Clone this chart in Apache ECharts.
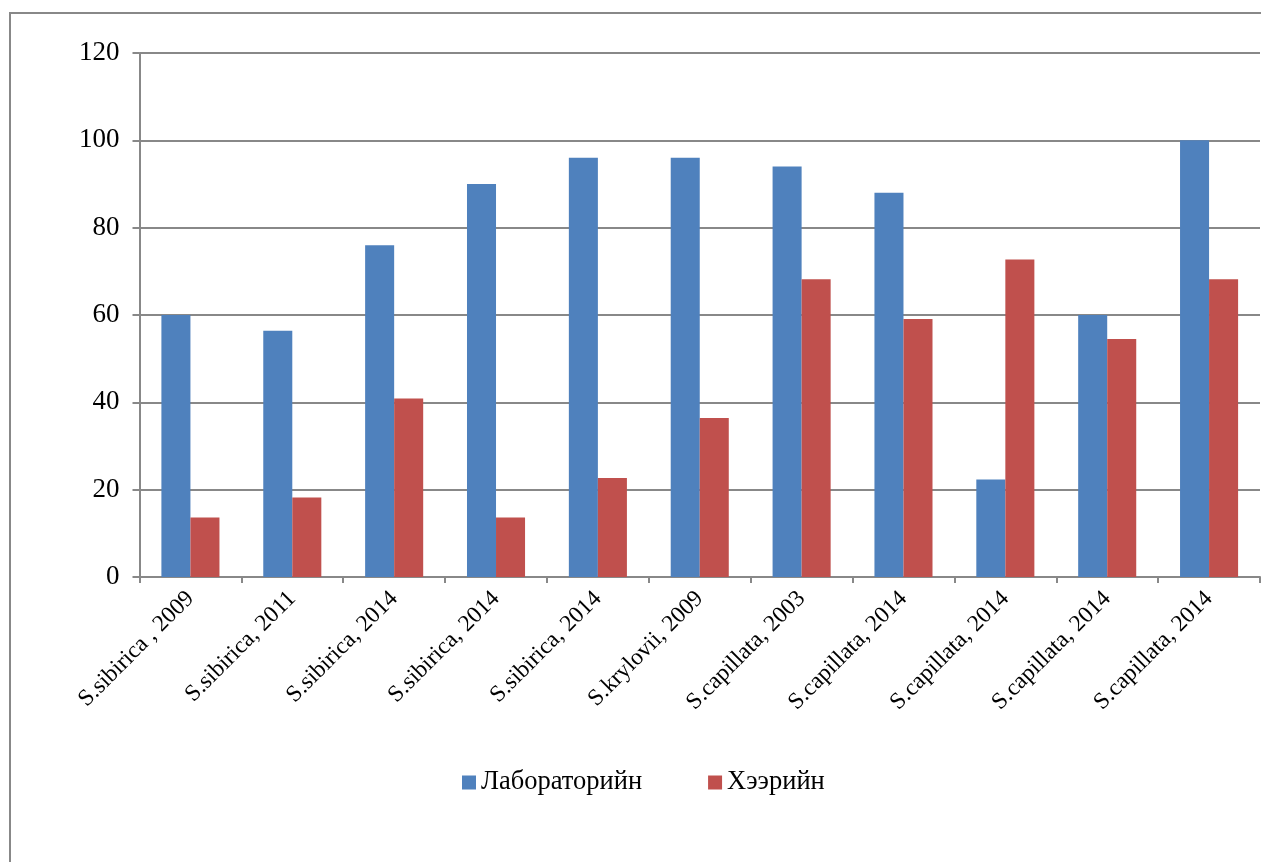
<!DOCTYPE html>
<html><head><meta charset="utf-8">
<script src="https://cdn.jsdelivr.net/npm/echarts@6/dist/echarts.min.js"></script>
<style>html,body{margin:0;padding:0;background:#fff}#c{width:1261px;height:862px}</style>
</head><body><div id="c"></div>
<script>
const categories = ['S.sibirica , 2009','S.sibirica, 2011','S.sibirica, 2014','S.sibirica, 2014','S.sibirica, 2014','S.krylovii, 2009','S.capillata, 2003','S.capillata, 2014','S.capillata, 2014','S.capillata, 2014','S.capillata, 2014'];
const labValues = [60, 56.4, 76, 90, 96, 96, 94, 88, 22.3, 60, 100];
const fieldValues = [13.6, 18.2, 40.9, 13.6, 22.7, 36.4, 68.2, 59.1, 72.7, 54.5, 68.2];
const seriesNames = ['Лабораторийн', 'Хээрийн'];
const yTicks = {min: 0, max: 120, interval: 20};

const chart = echarts.init(document.getElementById('c'));
const font = 'Liberation Serif';
chart.setOption({
  animation: false,
  textStyle: {fontFamily: font},
  graphic: [{type: 'rect', shape: {x: 10, y: 13, width: 1300, height: 900}, style: {fill: 'none', stroke: '#888', lineWidth: 2}, silent: true, z: -10}],
  grid: {left: 139.5, right: 1, top: 53, bottom: 285, containLabel: false},
  legend: {
    data: seriesNames, top: 764, left: 457, itemGap: 66,
    itemWidth: 14, itemHeight: 14, icon: 'rect',
    textStyle: {fontFamily: font, fontSize: 26.5, color: '#000'}
  },
  xAxis: {
    type: 'category', data: categories,
    axisLine: {lineStyle: {color: '#888', width: 2}},
    axisTick: {show: true, length: 6, lineStyle: {color: '#888', width: 2}},
    axisLabel: {rotate: 45, fontSize: 23.5, color: '#000', fontFamily: font, margin: 18, interval: 0}
  },
  yAxis: {
    type: 'value', min: yTicks.min, max: yTicks.max, interval: yTicks.interval,
    axisLine: {show: true, lineStyle: {color: '#888', width: 2}},
    axisTick: {show: true, length: 7, lineStyle: {color: '#888', width: 2}},
    splitLine: {lineStyle: {color: '#888', width: 2}},
    axisLabel: {fontSize: 27, color: '#000', fontFamily: font, margin: 20}
  },
  series: [
    {name: seriesNames[0], type: 'bar', data: labValues, itemStyle: {color: '#4F81BD'}, barGap: '0%', barCategoryGap: '43%'},
    {name: seriesNames[1], type: 'bar', data: fieldValues, itemStyle: {color: '#C0504D'}, barGap: '0%', barCategoryGap: '43%'}
  ]
});
</script></body></html>
